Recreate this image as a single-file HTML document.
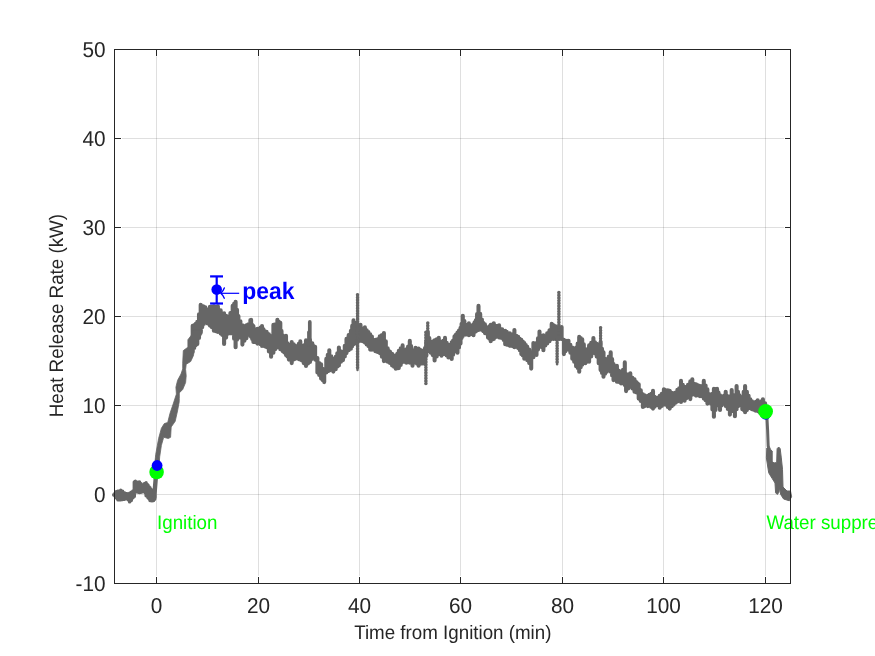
<!DOCTYPE html>
<html><head><meta charset="utf-8"><title>Heat Release Rate</title>
<style>
html,body{margin:0;padding:0;background:#fff;}
body{width:875px;height:656px;overflow:hidden;}
svg{display:block;font-family:"Liberation Sans",sans-serif;will-change:transform;}
text{text-rendering:geometricPrecision;}
.tk{font-size:20.8px;fill:#262626;}
.lb{font-size:18.75px;fill:#262626;}
.gr{font-size:18.75px;fill:#00ff00;}
.pk{font-size:22.9px;font-weight:bold;fill:#0000ff;}
</style></head><body>
<svg width="875" height="656" viewBox="0 0 875 656">
<rect x="0" y="0" width="875" height="656" fill="#ffffff"/>
<!-- grid -->
<line x1="156.50" y1="56.5" x2="156.50" y2="575.8" stroke="#262626" stroke-opacity="0.15" stroke-width="1"/>
<line x1="258.50" y1="56.5" x2="258.50" y2="575.8" stroke="#262626" stroke-opacity="0.15" stroke-width="1"/>
<line x1="359.50" y1="56.5" x2="359.50" y2="575.8" stroke="#262626" stroke-opacity="0.15" stroke-width="1"/>
<line x1="460.50" y1="56.5" x2="460.50" y2="575.8" stroke="#262626" stroke-opacity="0.15" stroke-width="1"/>
<line x1="562.50" y1="56.5" x2="562.50" y2="575.8" stroke="#262626" stroke-opacity="0.15" stroke-width="1"/>
<line x1="663.50" y1="56.5" x2="663.50" y2="575.8" stroke="#262626" stroke-opacity="0.15" stroke-width="1"/>
<line x1="765.50" y1="56.5" x2="765.50" y2="575.8" stroke="#262626" stroke-opacity="0.15" stroke-width="1"/>
<line x1="122" y1="494.50" x2="784" y2="494.50" stroke="#262626" stroke-opacity="0.15" stroke-width="1"/>
<line x1="122" y1="405.50" x2="784" y2="405.50" stroke="#262626" stroke-opacity="0.15" stroke-width="1"/>
<line x1="122" y1="316.50" x2="784" y2="316.50" stroke="#262626" stroke-opacity="0.15" stroke-width="1"/>
<line x1="122" y1="227.50" x2="784" y2="227.50" stroke="#262626" stroke-opacity="0.15" stroke-width="1"/>
<line x1="122" y1="138.50" x2="784" y2="138.50" stroke="#262626" stroke-opacity="0.15" stroke-width="1"/>
<!-- tick marks -->
<line x1="156.50" y1="583.5" x2="156.50" y2="577.0" stroke="#262626" stroke-width="1"/>
<line x1="156.50" y1="49.5" x2="156.50" y2="56.0" stroke="#262626" stroke-width="1"/>
<line x1="258.50" y1="583.5" x2="258.50" y2="577.0" stroke="#262626" stroke-width="1"/>
<line x1="258.50" y1="49.5" x2="258.50" y2="56.0" stroke="#262626" stroke-width="1"/>
<line x1="359.50" y1="583.5" x2="359.50" y2="577.0" stroke="#262626" stroke-width="1"/>
<line x1="359.50" y1="49.5" x2="359.50" y2="56.0" stroke="#262626" stroke-width="1"/>
<line x1="460.50" y1="583.5" x2="460.50" y2="577.0" stroke="#262626" stroke-width="1"/>
<line x1="460.50" y1="49.5" x2="460.50" y2="56.0" stroke="#262626" stroke-width="1"/>
<line x1="562.50" y1="583.5" x2="562.50" y2="577.0" stroke="#262626" stroke-width="1"/>
<line x1="562.50" y1="49.5" x2="562.50" y2="56.0" stroke="#262626" stroke-width="1"/>
<line x1="663.50" y1="583.5" x2="663.50" y2="577.0" stroke="#262626" stroke-width="1"/>
<line x1="663.50" y1="49.5" x2="663.50" y2="56.0" stroke="#262626" stroke-width="1"/>
<line x1="765.50" y1="583.5" x2="765.50" y2="577.0" stroke="#262626" stroke-width="1"/>
<line x1="765.50" y1="49.5" x2="765.50" y2="56.0" stroke="#262626" stroke-width="1"/>
<line x1="114.5" y1="494.50" x2="121.0" y2="494.50" stroke="#262626" stroke-width="1"/>
<line x1="790.5" y1="494.50" x2="785" y2="494.50" stroke="#262626" stroke-width="1"/>
<line x1="114.5" y1="405.50" x2="121.0" y2="405.50" stroke="#262626" stroke-width="1"/>
<line x1="790.5" y1="405.50" x2="785" y2="405.50" stroke="#262626" stroke-width="1"/>
<line x1="114.5" y1="316.50" x2="121.0" y2="316.50" stroke="#262626" stroke-width="1"/>
<line x1="790.5" y1="316.50" x2="785" y2="316.50" stroke="#262626" stroke-width="1"/>
<line x1="114.5" y1="227.50" x2="121.0" y2="227.50" stroke="#262626" stroke-width="1"/>
<line x1="790.5" y1="227.50" x2="785" y2="227.50" stroke="#262626" stroke-width="1"/>
<line x1="114.5" y1="138.50" x2="121.0" y2="138.50" stroke="#262626" stroke-width="1"/>
<line x1="790.5" y1="138.50" x2="785" y2="138.50" stroke="#262626" stroke-width="1"/>
<!-- data -->
<path d="M113.7 494.7V495.0M115.0 493.3V496.1M116.2 491.6V497.8M117.1 491.5V498.7M118.0 491.2V499.9M119.3 491.2V499.8M120.7 490.2V499.9M121.7 491.3V499.5M122.6 491.2V499.5M123.5 492.6V499.2M124.5 493.0V499.2M125.8 493.5V498.9M127.2 493.6V498.8M128.4 494.3V499.9M129.6 493.3V501.9M130.4 493.1V501.0M131.3 492.3V500.5M132.2 492.4V498.3M133.0 490.9V497.8M134.3 482.0V496.4M135.4 481.3V492.3M136.4 482.2V491.9M137.5 482.3V492.0M138.5 482.3V492.3M139.5 482.0V492.6M140.2 483.1V492.1M141.0 483.7V492.3M141.9 486.4V492.0M143.1 485.2V491.6M144.3 483.7V491.6M145.2 483.5V492.8M146.1 482.7V495.7M147.1 484.2V496.2M148.0 485.1V497.8M149.0 486.8V498.8M150.0 487.8V500.5M151.0 489.2V500.6M152.0 490.2V500.9M152.8 491.9V500.6M153.6 493.0V500.5M154.7 495.7V499.2" fill="none" stroke="#666666" stroke-width="3.4" stroke-linecap="round"/>
<path d="M192.7 325.8V351.9M194.2 325.0V348.0M195.8 323.8V345.0M197.3 321.8V343.9M199.0 314.3V337.9M200.7 304.7V332.6M202.2 306.1V327.2M203.8 306.6V324.0M205.3 307.4V322.2M207.6 309.8V323.5M209.9 306.9V325.6M211.9 306.8V327.2M213.9 306.4V330.8M215.9 307.0V331.3M217.9 306.4V331.9M219.3 310.3V331.7M220.7 310.4V333.6M222.4 319.6V334.9M224.1 313.2V343.9M226.1 315.8V337.6M228.1 316.7V333.6M230.4 313.1V333.2M232.7 305.8V333.6M234.1 303.9V338.8M235.6 301.8V347.3M237.0 309.7V339.7M238.4 316.1V333.6M240.4 321.2V337.5M242.4 325.2V344.6M244.4 326.4V340.7M246.4 325.2V338.2M248.4 324.3V334.5M250.4 320.1V335.9M251.1 319.8V336.8M252.2 324.8V339.1M253.4 326.1V341.9M255.4 329.4V342.0M257.4 328.9V343.6M258.9 330.5V341.1M260.5 327.5V344.2M262.0 326.1V345.9M263.5 329.4V345.0M265.1 331.3V346.5M266.6 331.8V347.1M268.9 334.4V351.4M271.1 336.4V356.8M273.4 324.9V352.8M275.4 324.4V349.1M277.4 319.8V347.1M278.9 321.9V347.5M280.3 322.7V349.3M281.5 330.9V348.5M282.6 335.2V351.1M284.3 336.7V352.4M286.0 335.8V355.1M287.4 343.2V356.5M288.9 345.4V359.6M290.3 344.8V359.0M291.7 342.1V363.1M293.7 344.3V359.5M295.7 346.1V358.6M297.2 346.2V356.8M298.8 343.7V359.1M300.3 341.4V359.6M302.0 345.6V360.5M303.7 348.9V363.1M304.9 344.8V363.0M306.0 340.4V365.9M308.0 341.1V363.4M310.0 340.1V361.9M311.1 343.0V359.6M312.3 343.2V357.3M313.7 346.0V357.3M315.1 346.7V359.6M317.4 358.1V372.4M319.2 363.1V374.9M321.1 364.2V378.6M322.6 368.7V380.1M324.2 369.6V382.1M326.3 358.9V372.4M327.8 354.8V371.2M329.3 350.2V370.6M331.3 356.4V369.8M333.3 358.9V371.6M334.5 359.6V368.8M335.7 356.9V369.3M337.3 353.3V366.6M338.9 347.6V365.4M340.9 351.2V361.7M343.0 351.9V360.1M344.8 345.8V356.5M346.5 338.9V353.1M348.7 335.1V350.2M350.9 330.9V348.8M352.2 325.9V346.2M353.5 320.4V344.3M354.8 322.9V343.6M356.1 324.1V342.9M358.3 325.4V341.2M360.5 324.8V340.8M362.7 328.7V341.3M364.9 327.4V342.6M366.7 330.3V344.4M368.4 332.1V346.1M370.2 334.4V349.6M371.9 336.6V349.7M373.7 340.3V347.4M375.4 339.7V351.3M377.6 339.4V351.9M379.8 336.2V353.1M381.9 335.1V356.8M383.9 333.1V361.1M385.8 341.3V360.6M387.7 348.4V361.8M389.9 351.5V363.0M392.1 353.8V365.4M394.0 357.8V366.7M395.8 355.4V368.8M397.3 353.9V368.3M398.8 350.9V368.1M400.7 348.4V364.9M402.6 345.4V361.9M404.5 350.9V361.7M406.4 349.4V362.8M408.1 346.5V361.2M409.8 340.9V362.8M411.1 346.0V363.0M412.5 350.9V365.8M414.1 350.4V362.3M415.6 347.8V362.8M417.1 350.4V363.8M418.6 348.6V365.8M420.5 350.1V363.8M422.4 350.9V363.4M423.7 350.9V360.2M425.0 348.1V363.9M426.4 341.5V355.8M427.8 332.1V351.3M429.3 338.1V350.2M430.8 342.4V352.8M432.7 341.5V355.1M434.6 340.2V360.4M436.7 339.2V356.4M438.8 337.9V352.8M440.1 341.6V354.2M441.5 343.2V355.8M443.2 340.7V353.1M445.0 337.9V354.3M446.7 342.7V355.5M448.4 344.8V357.4M450.0 347.2V356.7M451.7 342.4V358.9M453.1 340.6V354.8M454.5 336.4V351.3M456.0 334.6V351.2M457.5 332.6V352.8M459.0 330.5V347.4M460.5 327.9V343.6M461.6 323.8V337.9M462.8 315.8V336.1M464.4 321.1V334.0M465.9 324.9V334.6M467.4 325.5V333.0M468.9 323.4V335.2M470.4 325.3V334.3M472.0 325.8V334.0M473.5 324.2V335.2M474.6 322.3V331.9M475.8 320.4V331.4M477.1 314.1V328.6M478.5 305.9V329.9M480.2 313.9V327.9M481.9 319.6V329.9M483.4 323.1V331.3M484.9 324.2V333.1M486.4 328.3V333.5M488.0 327.2V337.6M489.4 326.2V338.7M490.7 324.9V341.3M492.2 324.6V339.6M493.8 323.2V338.9M495.6 325.9V337.1M497.3 326.2V336.0M499.1 325.4V337.4M500.6 329.3V337.6M502.2 329.4V338.1M503.7 331.1V339.9M505.2 330.9V344.2M506.7 331.8V344.6M508.3 334.2V344.9M509.8 333.2V345.8M512.1 334.6V346.0M514.4 330.1V347.3M516.3 335.9V346.6M518.2 336.9V348.1M519.8 338.9V350.3M521.3 339.9V354.1M522.8 341.5V355.4M524.3 343.1V358.8M525.8 345.1V357.8M527.3 346.9V360.2M529.2 349.6V363.1M531.2 352.2V368.6M533.4 343.1V357.2M535.0 345.0V354.0M536.5 343.1V354.9M538.0 338.2V349.6M539.5 331.6V346.6M541.5 335.9V347.0M543.4 335.4V350.3M545.3 336.9V345.5M547.2 333.2V343.4M549.5 330.2V341.2M551.7 323.9V338.9M553.6 325.3V338.9M555.5 326.2V338.9M557.5 327.3V338.6M559.6 329.1V338.9M561.6 327.1V338.9M563.9 339.9V354.1M565.4 340.9V351.3M567.0 340.7V349.4M568.5 340.8V349.6M570.4 344.9V352.8M572.3 347.6V358.8M574.2 349.7V361.8M576.1 347.6V366.3M577.7 343.6V368.0M579.2 336.9V371.8M580.7 338.1V367.3M582.2 339.2V364.8M583.8 344.4V362.6M585.3 349.2V363.3M587.2 349.3V361.7M589.1 345.4V361.8M591.2 342.9V356.4M593.4 338.1V352.4M595.0 342.2V353.5M596.7 343.9V356.6M598.7 345.0V363.2M600.6 342.1V370.1M602.0 348.7V372.9M603.5 352.4V376.8M605.1 358.8V373.8M606.8 359.1V371.8M608.8 356.5V369.2M610.7 352.4V371.8M612.1 359.1V375.5M613.5 364.1V380.1M615.2 367.8V379.8M616.9 365.8V381.8M619.0 370.7V382.0M621.1 374.9V383.4M623.0 369.7V383.3M624.8 362.4V385.1M626.1 374.1V391.1M628.2 374.5V388.5M630.3 373.2V386.8M632.4 377.9V388.5M634.5 379.2V391.8M636.6 382.2V392.5M638.7 384.2V398.6M640.8 390.4V401.0M642.9 394.2V406.9M644.6 395.2V406.1M646.2 397.9V404.1M647.9 395.9V406.1M649.6 394.9V403.8M651.3 393.8V406.9M653.0 390.9V408.6M654.6 396.8V406.8M656.3 397.7V405.2M658.0 397.5V405.3M659.7 395.9V407.8M661.8 393.8V406.0M663.9 389.2V404.4M665.8 390.2V404.8M667.8 390.4V407.0M669.7 390.9V408.6M671.7 392.8V406.2M673.6 393.2V404.6M675.6 392.6V402.8M677.4 389.8V401.4M679.2 388.2V400.7M681.0 380.9V401.9M682.8 384.8V398.0M684.6 387.2V400.8M686.3 386.9V398.2M688.0 384.9V396.8M690.3 381.4V399.1M692.3 379.2V394.6M694.1 383.9V394.5M696.0 384.4V395.6M698.0 385.3V395.3M700.0 386.1V396.2M701.9 386.0V396.1M703.8 380.9V398.6M705.6 385.6V400.2M707.4 389.4V403.6M709.1 394.0V401.3M710.9 395.2V403.6M712.4 393.9V409.4M713.9 388.9V416.8M715.5 389.3V410.0M717.1 388.9V403.6M718.5 392.6V405.5M720.0 395.2V409.9M721.5 398.5V405.5M722.9 396.4V403.6M724.3 395.6V403.1M725.7 391.8V405.9M727.8 396.3V409.0M729.9 396.4V414.6M731.7 390.1V408.2M733.3 395.0V411.2M734.9 395.2V416.2M736.6 386.1V409.3M738.0 391.7V406.2M739.4 395.2V403.6M740.8 399.1V405.5M742.3 397.4V409.3M743.7 391.8V410.1M745.1 386.1V412.2M746.9 391.8V410.1M748.6 395.8V408.2M750.3 399.2V408.3M752.0 401.4V409.3M753.7 402.6V409.7M755.4 402.1V410.6M756.5 401.6V409.8M757.7 400.4V411.1M760.0 403.2V412.8M761.5 401.2V412.3M762.9 399.2V413.9M765.1 403.2V414.9M767.0 407.1V416.9" fill="none" stroke="#666666" stroke-width="4.1" stroke-linecap="round"/>
<polygon points="155.0,462.0 155.7,454.5 158.6,438.5 161.4,428.2 164.3,423.6 167.7,422.5 170.0,413.3 173.5,403.0 176.4,394.1 175.9,387.2 177.6,380.3 181.0,374.0 182.7,368.9 182.7,363.2 183.3,350.6 187.9,347.2 187.9,339.7 191.9,334.6 193.0,330.0 202.2,330.0 201.6,334.6 198.2,339.2 197.0,346.0 193.6,348.3 193.6,355.2 190.7,361.5 186.2,364.3 185.6,369.5 186.2,375.8 185.6,382.6 182.7,389.5 179.3,392.9 179.3,398.6 179.2,401.9 177.5,411.0 175.2,421.3 171.2,427.0 170.6,437.3 168.3,438.5 163.7,437.3 161.4,445.3 159.7,456.8 159.3,462.0" fill="#666666" stroke="#666666" stroke-width="0.8" stroke-linejoin="round"/>
<polyline points="154.3,497.5 154.8,490.0 155.6,480.0 156.6,468.0 157.2,460.0" fill="none" stroke="#666666" stroke-width="4.4" stroke-linejoin="round" stroke-linecap="round"/>
<line x1="357.5" y1="294.7" x2="357.5" y2="370.0" stroke="#666666" stroke-width="2.4" stroke-linecap="round"/>
<line x1="357.5" y1="294.7" x2="357.5" y2="370.0" stroke="#666666" stroke-width="3.5" stroke-linecap="round" stroke-dasharray="0 2.7"/>
<line x1="425.9" y1="332.3" x2="425.9" y2="383.7" stroke="#666666" stroke-width="2.4" stroke-linecap="round"/>
<line x1="425.9" y1="332.3" x2="425.9" y2="383.7" stroke="#666666" stroke-width="3.5" stroke-linecap="round" stroke-dasharray="0 2.7"/>
<line x1="427.8" y1="323.1" x2="427.8" y2="339.7" stroke="#666666" stroke-width="2.4" stroke-linecap="round"/>
<line x1="427.8" y1="323.1" x2="427.8" y2="339.7" stroke="#666666" stroke-width="3.5" stroke-linecap="round" stroke-dasharray="0 2.7"/>
<line x1="557.1" y1="340.3" x2="557.1" y2="364.3" stroke="#666666" stroke-width="2.4" stroke-linecap="round"/>
<line x1="557.1" y1="340.3" x2="557.1" y2="364.3" stroke="#666666" stroke-width="3.5" stroke-linecap="round" stroke-dasharray="0 2.7"/>
<line x1="558.9" y1="292.5" x2="558.9" y2="334.7" stroke="#666666" stroke-width="2.4" stroke-linecap="round"/>
<line x1="558.9" y1="292.5" x2="558.9" y2="334.7" stroke="#666666" stroke-width="3.5" stroke-linecap="round" stroke-dasharray="0 2.7"/>
<line x1="600.6" y1="327.7" x2="600.6" y2="344.7" stroke="#666666" stroke-width="2.4" stroke-linecap="round"/>
<line x1="600.6" y1="327.7" x2="600.6" y2="344.7" stroke="#666666" stroke-width="3.5" stroke-linecap="round" stroke-dasharray="0 2.7"/>
<polyline points="309.8,321.9 309.8,345.0" fill="none" stroke="#666666" stroke-width="3.7" stroke-linejoin="round" stroke-linecap="round"/>
<polyline points="308.6,332.0 308.6,345.0" fill="none" stroke="#666666" stroke-width="3.0" stroke-linejoin="round" stroke-linecap="round"/>
<polyline points="766.8,415.0 767.6,430.0 768.2,446.4" fill="none" stroke="#666666" stroke-width="3" stroke-linejoin="round" stroke-linecap="round"/>
<polygon points="769.3,446.4 770.4,449.3 772.2,451.0 772.2,461.3 773.9,463.0 776.7,462.5 777.1,448.7 778.7,447.0 780.2,448.7 781.3,457.9 782.5,469.3 783.0,487.0 787.0,491.0 790.5,491.0 791.6,496.8 789.3,500.8 783.6,499.0 780.7,494.5 779.6,487.6 779.0,492.2 777.3,494.5 775.6,492.8 775.0,483.0 772.2,478.5 768.7,472.8 766.4,457.9 766.8,448.0" fill="#666666" stroke="#666666" stroke-width="1" stroke-linejoin="round"/>
<!-- green markers / blue markers -->
<circle cx="765.6" cy="414.3" r="5.4" fill="#0000ff"/>
<circle cx="156.6" cy="472" r="7.3" fill="#00ff00"/>
<circle cx="765.6" cy="411.5" r="7.4" fill="#00ff00"/>
<circle cx="157.1" cy="465.5" r="5.4" fill="#0000ff"/>
<!-- annotations text -->
<text transform="translate(157.00 528.70) scale(1 1.04)" class="gr">Ignition</text>
<text transform="translate(766.40 528.70) scale(1 1.04)" class="gr">Water suppression</text>
<!-- peak arrow + label -->
<line x1="221" y1="293.3" x2="239.2" y2="293.3" stroke="#0000ff" stroke-width="1.2"/>
<path d="M220.8 293.3 Q223.0 291.4 224.3 288.0 M220.8 293.3 Q223.0 295.2 224.3 298.2" fill="none" stroke="#0000ff" stroke-width="1.4" stroke-linecap="round"/>
<text transform="translate(242.20 298.50) scale(1 1.04)" class="pk">peak</text>
<!-- error bar -->
<line x1="216.7" y1="276.4" x2="216.7" y2="303.5" stroke="#0000ff" stroke-width="2.2"/>
<line x1="210.1" y1="276.4" x2="223" y2="276.4" stroke="#0000ff" stroke-width="2.2"/>
<line x1="210.1" y1="303.5" x2="223" y2="303.5" stroke="#0000ff" stroke-width="2.2"/>
<circle cx="216.7" cy="289.6" r="5.3" fill="#0000ff"/>
<!-- axes -->
<rect x="114.5" y="49.5" width="676.0" height="534.0" fill="none" stroke="#262626" stroke-width="1"/>
<!-- tick labels -->
<text transform="translate(156.50 612.90) scale(1 1.04)" text-anchor="middle" class="tk">0</text>
<text transform="translate(258.50 612.90) scale(1 1.04)" text-anchor="middle" class="tk">20</text>
<text transform="translate(359.50 612.90) scale(1 1.04)" text-anchor="middle" class="tk">40</text>
<text transform="translate(460.50 612.90) scale(1 1.04)" text-anchor="middle" class="tk">60</text>
<text transform="translate(562.50 612.90) scale(1 1.04)" text-anchor="middle" class="tk">80</text>
<text transform="translate(663.50 612.90) scale(1 1.04)" text-anchor="middle" class="tk">100</text>
<text transform="translate(765.50 612.90) scale(1 1.04)" text-anchor="middle" class="tk">120</text>
<text transform="translate(105.60 590.95) scale(1 1.04)" text-anchor="end" class="tk">-10</text>
<text transform="translate(105.60 501.95) scale(1 1.04)" text-anchor="end" class="tk">0</text>
<text transform="translate(105.60 412.95) scale(1 1.04)" text-anchor="end" class="tk">10</text>
<text transform="translate(105.60 323.95) scale(1 1.04)" text-anchor="end" class="tk">20</text>
<text transform="translate(105.60 234.95) scale(1 1.04)" text-anchor="end" class="tk">30</text>
<text transform="translate(105.60 145.95) scale(1 1.04)" text-anchor="end" class="tk">40</text>
<text transform="translate(105.60 56.95) scale(1 1.04)" text-anchor="end" class="tk">50</text>
<!-- axis labels -->
<text transform="translate(452.80 638.80) scale(1 1.04)" text-anchor="middle" class="lb">Time from Ignition (min)</text>
<text transform="translate(63.00 315.60) rotate(-90) scale(1 1.04)" text-anchor="middle" class="lb">Heat Release Rate (kW)</text>
</svg>
</body></html>
